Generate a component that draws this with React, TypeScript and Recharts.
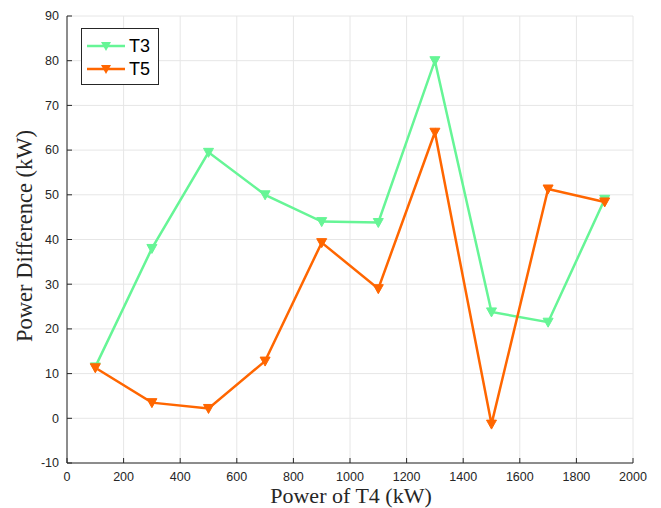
import React from 'react';
import { LineChart, Line, XAxis, YAxis, CartesianGrid, Legend } from 'recharts';

const powerT4 = [100, 300, 500, 700, 900, 1100, 1300, 1500, 1700, 1900];
const t3Values = [11.5, 38, 59.5, 50, 44, 43.8, 80, 23.8, 21.5, 49];
const t5Values = [11.3, 3.5, 2.2, 12.8, 39.3, 29, 64, -1.3, 51.3, 48.4];
const xTicks = [0, 200, 400, 600, 800, 1000, 1200, 1400, 1600, 1800, 2000];
const yTicks = [-10, 0, 10, 20, 30, 40, 50, 60, 70, 80, 90];
const seriesNames = ['T3', 'T5'];
const seriesColors = ['#66F596', '#FF6600'];

const data = powerT4.map((p, i) => ({ p, T3: t3Values[i], T5: t5Values[i] }));

const AX = '#262626';
const TICK_FONT = '"Liberation Sans", Arial, sans-serif';
const LABEL_FONT = '"Liberation Serif", "DejaVu Serif", serif';

const Tri = (props: any) => {
  const { cx, cy, fill } = props;
  if (cx == null || cy == null) return null;
  return <polygon points={`${cx - 5},${cy - 4} ${cx + 5},${cy - 4} ${cx},${cy + 5}`} fill={fill} stroke={fill} strokeWidth={1} />;
};

const BottomTick = (props: any) => {
  const { x, y, payload } = props;
  const ay = y - 14;
  return (
    <g>
      <line x1={x} y1={ay} x2={x} y2={ay - 5} stroke={AX} strokeWidth={1} />
      <text x={x} y={y} dy="0.35em" textAnchor="middle" fontFamily={TICK_FONT} fontSize={12.5} fill={AX}>{payload.value}</text>
    </g>
  );
};

const TopTick = (props: any) => {
  const { x, y } = props;
  return <line x1={x} y1={y} x2={x} y2={y + 5} stroke={AX} strokeWidth={1} />;
};

const LeftTick = (props: any) => {
  const { x, y, payload } = props;
  const ax = x + 8;
  return (
    <g>
      <line x1={ax} y1={y} x2={ax + 5} y2={y} stroke={AX} strokeWidth={1} />
      <text x={x} y={y} dy="0.35em" textAnchor="end" fontFamily={TICK_FONT} fontSize={12.5} fill={AX}>{payload.value}</text>
    </g>
  );
};

const RightTick = (props: any) => {
  const { x, y } = props;
  return <line x1={x} y1={y} x2={x - 5} y2={y} stroke={AX} strokeWidth={1} />;
};

const LegendBox = () => (
  <div style={{ border: `1px solid ${AX}`, background: '#fff', width: 78, height: 57, boxSizing: 'border-box', position: 'relative' }}>
    {seriesNames.map((n, i) => (
      <div key={n} style={{ position: 'absolute', left: 4, top: 6 + i * 23, height: 22, display: 'flex', alignItems: 'center' }}>
        <svg width={40} height={22}>
          <line x1={1} y1={11} x2={39} y2={11} stroke={seriesColors[i]} strokeWidth={2.5} />
          <polygon points={`15,7 25,7 20,16`} fill={seriesColors[i]} />
        </svg>
        <span style={{ fontFamily: TICK_FONT, fontSize: 18, color: '#000', marginLeft: 3 }}>{n}</span>
      </div>
    ))}
  </div>
);

export default function App() {
  return (
    <div style={{ position: 'absolute', left: 0, top: 0, width: 661, height: 508, background: '#fff' }}>
      <LineChart width={661} height={508} data={data} margin={{ top: 16, right: 28, bottom: 0, left: 0 }}>
        <CartesianGrid stroke="#e6e6e6" strokeWidth={1} />
        <XAxis dataKey="p" type="number" domain={[0, 2000]} ticks={xTicks} height={45} axisLine={{ stroke: AX }} tickLine={false} tickSize={0} tickMargin={14} tick={<BottomTick />} interval={0} />
        <XAxis xAxisId="top" orientation="top" dataKey="p" type="number" domain={[0, 2000]} ticks={xTicks} height={0} axisLine={{ stroke: AX }} tickLine={false} tickSize={0} tickMargin={0} tick={<TopTick />} interval={0} />
        <YAxis type="number" domain={[-10, 90]} ticks={yTicks} width={67} axisLine={{ stroke: AX }} tickLine={false} tickSize={0} tickMargin={8} tick={<LeftTick />} interval={0} />
        <YAxis yAxisId="right" orientation="right" type="number" domain={[-10, 90]} ticks={yTicks} width={0} axisLine={{ stroke: AX }} tickLine={false} tickSize={0} tickMargin={0} tick={<RightTick />} interval={0} />
        <Legend layout="horizontal" verticalAlign="middle" align="center" wrapperStyle={{ left: 81, top: 28, width: 78, height: 57 }} content={<LegendBox />} />
        <Line dataKey="T3" stroke={seriesColors[0]} strokeWidth={2.5} dot={<Tri fill={seriesColors[0]} />} isAnimationActive={false} activeDot={false} />
        <Line dataKey="T5" stroke={seriesColors[1]} strokeWidth={2.5} dot={<Tri fill={seriesColors[1]} />} isAnimationActive={false} activeDot={false} />
        <text x={351} y={498} textAnchor="middle" dominantBaseline="middle" fontFamily={LABEL_FONT} fontSize={22} fill={AX}>Power of T4 (kW)</text>
        <text x={27} y={236} textAnchor="middle" dominantBaseline="middle" fontFamily={LABEL_FONT} fontSize={22.5} fill={AX} transform="rotate(-90 27 236)">Power Difference (kW)</text>
      </LineChart>
    </div>
  );
}
